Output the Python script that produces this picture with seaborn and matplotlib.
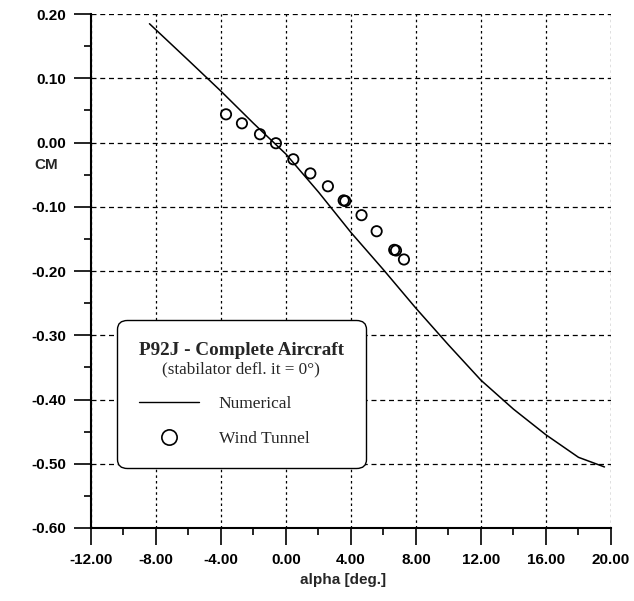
import numpy as np
import pandas as pd
import matplotlib
matplotlib.use("Agg")
import matplotlib.pyplot as plt
import matplotlib.ticker as ticker
from matplotlib.lines import Line2D
import seaborn as sns

# numerical CM curve
alpha_num = [-8.4, -6.0, -4.0, -2.0, 0.0, 2.0, 4.0, 6.0, 8.0, 10.0, 12.0, 14.0, 16.0, 18.0, 19.6]
cm_num = [0.185, 0.128, 0.080, 0.030, -0.018, -0.077, -0.140, -0.198, -0.258,
          -0.315, -0.370, -0.415, -0.455, -0.490, -0.505]

# wind tunnel points
alpha_wt = [-3.69, -2.71, -1.60, -0.62, 0.45, 1.50, 2.58, 3.55, 3.65, 4.65, 5.58, 6.66, 6.77, 7.26]
cm_wt = [0.044, 0.030, 0.013, -0.001, -0.026, -0.048, -0.068, -0.090, -0.091,
         -0.113, -0.138, -0.167, -0.168, -0.182]

xticks = [-12, -8, -4, 0, 4, 8, 12, 16, 20]
yticks = [0.2, 0.1, 0.0, -0.1, -0.2, -0.3, -0.4, -0.5, -0.6]

sns.set_style("white")
plt.rcParams['font.family'] = ['Liberation Sans', 'DejaVu Sans']

num_df = pd.DataFrame({"alpha": alpha_num, "CM": cm_num})
wt_df = pd.DataFrame({"alpha": alpha_wt, "CM": cm_wt})

fig = plt.figure(figsize=(6.34, 6.01), dpi=100)
ax = fig.add_axes([0.1435, 0.1215, 0.8202, 0.855])

sns.lineplot(data=num_df, x="alpha", y="CM", color="black", lw=1.1, ax=ax, zorder=3)
sns.scatterplot(data=wt_df, x="alpha", y="CM", marker="o", s=55, facecolor="none",
                edgecolor="black", linewidth=1.3, ax=ax, zorder=4)

ax.set_xlim(-12, 20)
ax.set_ylim(-0.6, 0.2)
ax.set_xticks(xticks)
ax.set_yticks(yticks)
ax.xaxis.set_minor_locator(ticker.MultipleLocator(2))
ax.yaxis.set_minor_locator(ticker.MultipleLocator(0.05))
ax.xaxis.set_major_formatter(ticker.FormatStrFormatter('%.2f'))
ax.yaxis.set_major_formatter(ticker.FormatStrFormatter('%.2f'))
ax.tick_params(which='major', direction='out', length=12, width=1.2, labelsize=11,
               pad=6, color='black', labelcolor='black')
ax.tick_params(which='minor', direction='out', length=5, width=1.2, color='black')
ax.tick_params(axis='x', which='both', bottom=True)
ax.tick_params(axis='y', which='both', left=True)
for lab in ax.get_xticklabels() + ax.get_yticklabels():
    lab.set_fontweight('bold')

ax.xaxis.grid(True, which='major', color='black', lw=0.9, ls=(0, (2, 2.5)))
ax.yaxis.grid(True, which='major', color='black', lw=0.9, ls=(0, (4, 3)))
for s in ['top', 'right']:
    ax.spines[s].set_visible(False)
for s in ['left', 'bottom']:
    ax.spines[s].set_color('black')
    ax.spines[s].set_linewidth(1.5)

ax.set_xlabel("")
ax.set_ylabel("")
ax.text(0.485, -0.101, "alpha [deg.]", transform=ax.transAxes, ha='center', va='center',
        fontsize=11, fontweight='bold')
ax.text(-0.087, 0.706, "CM", transform=ax.transAxes, ha='center', va='center',
        fontsize=11, fontweight='bold')

handles = [Line2D([], [], color='black', lw=1.0),
           Line2D([], [], marker='o', ls='none', markersize=11, markerfacecolor='none',
                  markeredgecolor='black', markeredgewidth=1.2)]
leg = ax.legend(handles, ["Numerical", "Wind Tunnel"],
                title="P92J - Complete Aircraft",
                loc='upper left', bbox_to_anchor=(0.05, 0.405), alignment='left',
                prop={'family': 'Liberation Serif', 'size': 12.5},
                title_fontproperties={'family': 'Liberation Serif', 'size': 13.8,
                                      'weight': 'bold'},
                frameon=True, fancybox=True, framealpha=1, edgecolor='black',
                handlelength=3.45, handletextpad=1.15, borderpad=1.25, labelspacing=1.05,
                borderaxespad=0)
leg.get_frame().set_linewidth(1.0)
leg.get_frame().set_boxstyle('round', pad=0.0, rounding_size=0.55)
leg.set_zorder(5)
# leave room between title and entries for the subtitle line
leg._legend_box.sep = 27

# subtitle centred under the bold title line
fig.canvas.draw()
tb = leg.get_title().get_window_extent(fig.canvas.get_renderer())
sub = fig.text((tb.x0 + tb.x1) / 2 / fig.bbox.width,
               (tb.y0 - 11) / fig.bbox.height,
               "(stabilator defl. it = 0°)", ha='center', va='center',
               family='Liberation Serif', size=12.3)
sub.set_zorder(6)

fig.savefig("out.png", dpi=100)
